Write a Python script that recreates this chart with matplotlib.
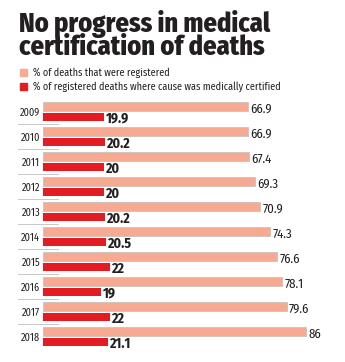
import matplotlib
matplotlib.use("Agg")
from matplotlib import pyplot as plt
from matplotlib.lines import Line2D
from matplotlib.patches import Rectangle
import numpy as np

FONT = "Fira Sans Condensed"
plt.rcParams["font.family"] = [FONT, "DejaVu Sans"]

years = ["2009", "2010", "2011", "2012", "2013", "2014", "2015", "2016", "2017", "2018"]
registered = [66.9, 66.9, 67.4, 69.3, 70.9, 74.3, 76.6, 78.1, 79.6, 86]
certified = [19.9, 20.2, 20, 20, 20.2, 20.5, 22, 19, 22, 21.1]
registered_labels = ["66.9", "66.9", "67.4", "69.3", "70.9", "74.3", "76.6", "78.1", "79.6", "86"]
certified_labels = ["19.9", "20.2", "20", "20", "20.2", "20.5", "22", "19", "22", "21.1"]

PINK = "#f7aa91"
RED = "#e31b23"
TEXT = "#231f20"

W, H = 345, 362
fig = plt.figure(figsize=(W / 100, H / 100), dpi=100)

# plot area in pixels: bars start at x=43, 1 unit = 3.06 px
x0 = 43
ax = fig.add_axes([x0 / W, 0, (W - x0) / W, 1])
ax.set_xlim(0, (W - x0) / 3.06)
ax.set_ylim(H, 0)
ax.axis("off")

row = np.arange(len(years)) * 25.0
pink_y = 106.4 + row
red_y = 117.0 + row
bar_h = 8.6

ax.barh(pink_y, registered, height=bar_h, color=PINK, edgecolor="#c9c0bc", linewidth=0.6)
ax.barh(red_y, certified, height=bar_h, color=RED, edgecolor="none")

for i in range(len(years)):
    ax.text(registered[i] + 0.8, pink_y[i] + 2.5, registered_labels[i], fontsize=9.2,
            color=TEXT, ha="left", va="center")
    ax.text(certified[i] + 0.7, red_y[i] + 1.6, certified_labels[i], fontsize=10,
            fontweight="bold", color=TEXT, ha="left", va="center")
    fig.text(40 / W, 1 - (pink_y[i] + 6.8) / H, years[i], fontsize=7.4, color=TEXT,
             ha="right", va="center")
    if i < len(years) - 1:
        yl = 1 - (pink_y[i] + 18) / H
        fig.add_artist(Line2D([18 / W, 58 / W], [yl, yl], color="#c8c8c8", lw=0.7))

# title
fig.text(19 / W, 1 - 32 / H, "No progress in medical", fontsize=19, fontweight="heavy",
         color=TEXT, ha="left", va="baseline")
fig.text(19 / W, 1 - 55 / H, "certification of deaths", fontsize=19, fontweight="heavy",
         color=TEXT, ha="left", va="baseline")

# legend
legend = [("% of deaths that were registered", PINK),
          ("% of registered deaths where cause was medically certified", RED)]
for j, (label, col) in enumerate(legend):
    yc = 72.5 + j * 14
    fig.add_artist(Rectangle((20 / W, 1 - (yc + 3.8) / H), 7.5 / W, 7.5 / H, color=col))
    fig.text(33 / W, 1 - yc / H, label, fontsize=7.3, color=TEXT, ha="left", va="center")

fig.savefig("out.png", dpi=100)
